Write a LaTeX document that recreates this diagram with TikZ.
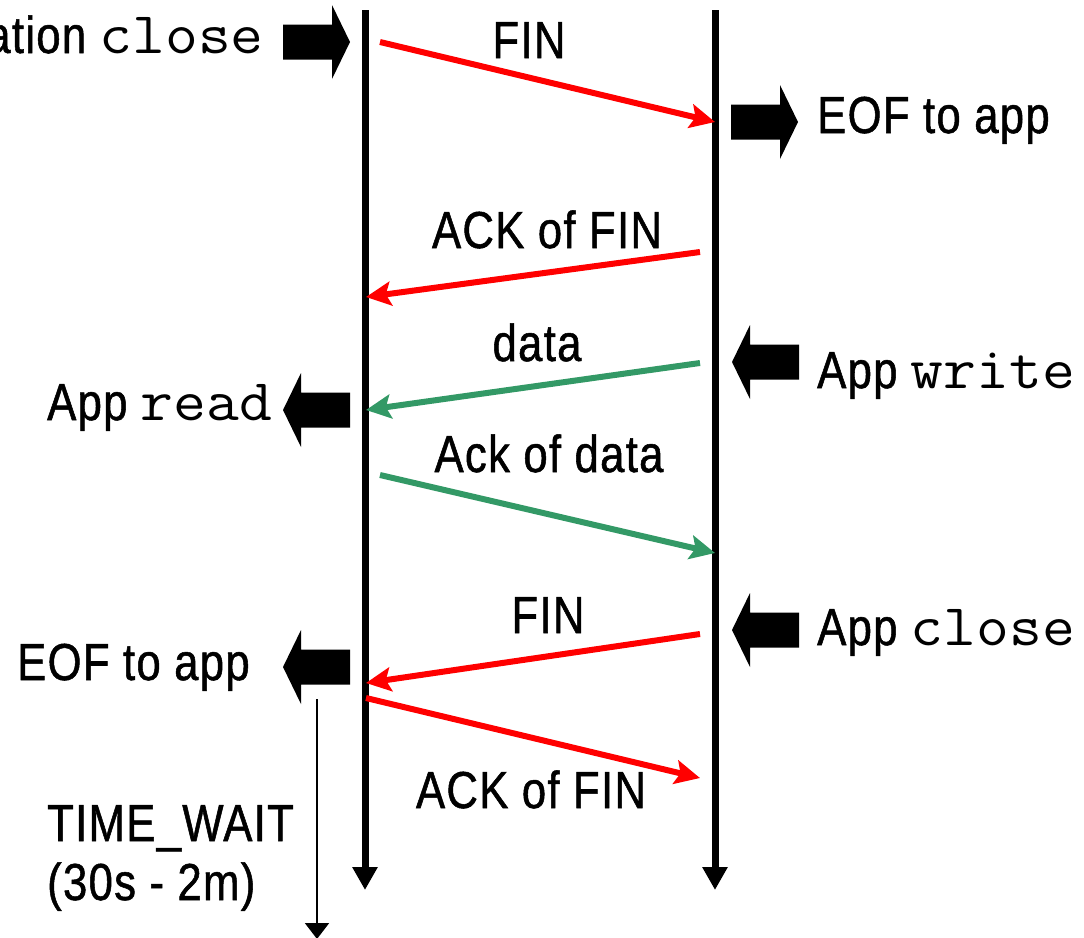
\documentclass[tikz,border=0pt]{standalone}
\usepackage{fontspec}
\usepackage{graphicx}
\setmainfont{Liberation Sans}[FakeStretch=0.84, FakeBold=1, LetterSpace=2.5]
\usetikzlibrary{arrows.meta}
\definecolor{msgred}{RGB}{255,0,0}
\definecolor{msggreen}{RGB}{51,153,102}
\newcommand\mono[1]{\scalebox{1.08}[1]{\fontsize{59}{62}\ttfamily #1}}
\tikzset{
  lbl/.style={inner sep=0pt, font=\fontsize{52}{62}\selectfont},
  timeline/.style={line width=7pt, -{Triangle[length=23pt,width=24pt]}},
  msg/.style={line width=6pt, -{Stealth[length=25pt,width=24pt,inset=5pt]}},
  fin/.style={msg, msgred},
  dat/.style={msg, msggreen},
  waitline/.style={line width=2pt, -{Triangle[length=16pt,width=24pt]}},
  blk/.pic={\fill (0,0) -- ++(-18,-37) -- ++(0,19.5) -- ++(-49,0) -- ++(0,35)
            -- ++(49,0) -- ++(0,19.5) -- cycle;}
}
\begin{document}
\begin{tikzpicture}[x=1pt, y=-1pt]
\useasboundingbox (0,0) rectangle (1084,937);
\clip (0,0) rectangle (1084,937);

% the two endpoints' time lines
\coordinate (Ltop) at (365,10);
\coordinate (Lbot) at (365,890);
\coordinate (Rtop) at (715,10);
\coordinate (Rbot) at (715,890);
\draw[timeline] (Ltop) -- (Lbot);
\draw[timeline] (Rtop) -- (Rbot);

% segment end points on the time lines
\coordinate (f1s) at (380,42);   \coordinate (f1e) at (715,122);
\coordinate (a1s) at (700,252);  \coordinate (a1e) at (366,297);
\coordinate (d1s) at (700,363);  \coordinate (d1e) at (366,410);
\coordinate (d2s) at (380,475);  \coordinate (d2e) at (715,553);
\coordinate (f2s) at (700,634);  \coordinate (f2e) at (366,683);
\coordinate (a2s) at (366,698);  \coordinate (a2e) at (700,778);

\draw[fin] (f1s) -- (f1e);
\draw[fin] (a1s) -- (a1e);
\draw[dat] (d1s) -- (d1e);
\draw[dat] (d2s) -- (d2e);
\draw[fin] (f2s) -- (f2e);
\draw[fin] (a2s) -- (a2e);

% segment labels
\node[lbl, anchor=base] (tFIN1) at (529,58) {FIN};
\node[lbl, anchor=base] (tACK1) at (547,248) {ACK of FIN};
\node[lbl, anchor=base] (tDAT1) at (537,361) {data};
\node[lbl, anchor=base] (tDAT2) at (549,472) {Ack of data};
\node[lbl, anchor=base] (tFIN2) at (548,633) {FIN};
\node[lbl, anchor=base] (tACK2) at (531,808) {ACK of FIN};

% application events
\pic at (350,42) {blk};
\pic at (798,122) {blk};
\pic[rotate=180] at (283,410) {blk};
\pic[rotate=180] at (732,362) {blk};
\pic[rotate=180] at (732,630) {blk};
\pic[rotate=180] at (283,667) {blk};

\node[lbl, anchor=base east] (appclose1) at (264,53) {Application \mono{close}};
\node[lbl, anchor=base west] (eof1) at (817,133) {EOF to app};
\node[lbl, anchor=base west] (appwrite) at (817,388) {App \mono{write}};
\node[lbl, anchor=base west] (appread) at (47,420) {App \mono{read}};
\node[lbl, anchor=base west] (appclose2) at (817,645) {App \mono{close}};
\node[lbl, anchor=base west] (eof2) at (17,680) {EOF to app};

% TIME_WAIT interval
\coordinate (twtop) at (317,699);
\coordinate (twbot) at (317,939);
\draw[waitline] (twtop) -- (twbot);
\node[lbl, anchor=base west] (tw1) at (47,841) {TIME\_WAIT};
\node[lbl, anchor=base west] (tw2) at (47,900) {(30s - 2m)};
\end{tikzpicture}
\end{document}
